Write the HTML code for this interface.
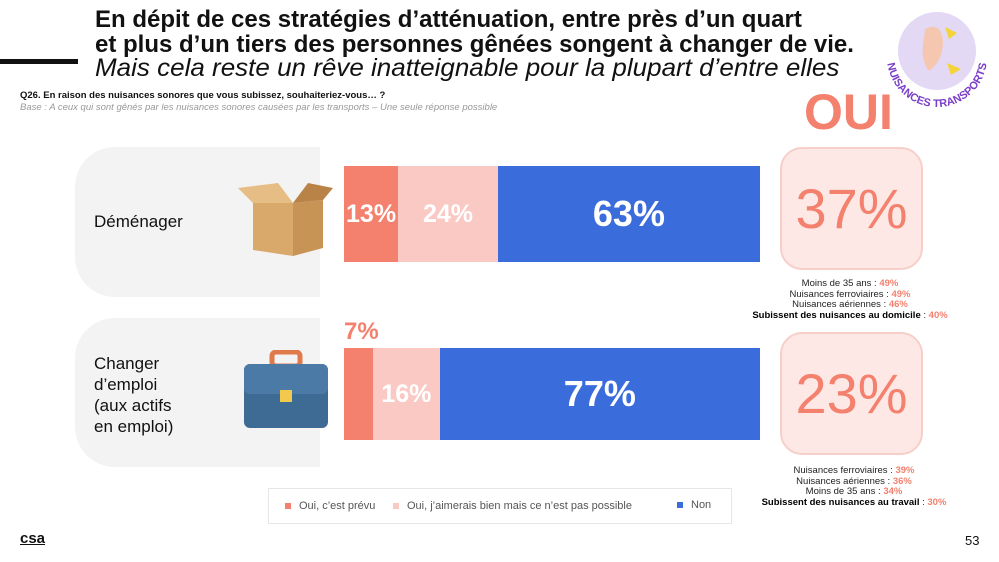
<!DOCTYPE html>
<html><head><meta charset="utf-8">
<style>
*{margin:0;padding:0;box-sizing:border-box}
body{width:999px;height:562px;background:#fff;font-family:"Liberation Sans",sans-serif;position:relative;overflow:hidden;color:#111}
.abs{position:absolute}
.title{left:95px;top:7px;font-size:24px;font-weight:bold;line-height:25px;white-space:nowrap}
.sub{left:95px;top:56px;font-size:25px;font-style:italic;line-height:25px;white-space:nowrap;transform:scaleX(1.04);transform-origin:left}
.card{background:#f3f3f3;border-radius:40px 0 0 40px}
.seg{position:absolute;display:flex;align-items:center;justify-content:center;color:#fff;font-weight:bold}
.oui{background:#fde8e6;border:2px solid #f7cfc9;border-radius:22px;color:#f4806e;font-size:56px;display:flex;align-items:center;justify-content:center}
.notes{font-size:9.5px;text-align:center;line-height:10.5px;color:#222}
.notes b{color:#000}
.notes span{color:#f4806e;font-weight:bold}
</style></head><body>
<div class="abs" style="left:0;top:59px;width:78px;height:5px;background:#111"></div>
<div class="abs title">En dépit de ces stratégies d’atténuation, entre près d’un quart<br>et plus d’un tiers des personnes gênées songent à changer de vie.</div>
<div class="abs sub">Mais cela reste un rêve inatteignable pour la plupart d’entre elles</div>
<div class="abs" style="left:20px;top:90px;font-size:9.5px;font-weight:bold">Q26. En raison des nuisances sonores que vous subissez, souhaiteriez-vous… ?</div>
<div class="abs" style="left:20px;top:102px;font-size:9.5px;font-style:italic;color:#999">Base : A ceux qui sont gênés par les nuisances sonores causées par les transports – Une seule réponse possible</div>

<svg class="abs" style="left:875px;top:5px" width="124" height="115" viewBox="0 0 124 115">
<defs><path id="arc" d="M12 52 A50 50 0 0 0 112 52"/></defs>
<circle cx="62" cy="46" r="39" fill="#e3d9f5"/>
<path d="M50 24 Q66 16 68 36 Q68 56 54 66 Q46 56 48 40Z" fill="#f6c7b0"/>
<path d="M70 22 L82 28 L74 34Z M72 58 L86 64 L76 70Z" fill="#f5d33b"/>
<text font-size="11" font-weight="bold" fill="#7a3ec9" font-family="Liberation Sans"><textPath href="#arc" startOffset="50%" text-anchor="middle">NUISANCES TRANSPORTS</textPath></text>
</svg>
<div class="abs" style="left:804px;top:86px;font-size:50px;font-weight:bold;color:#f4806e;line-height:52px">OUI</div>

<div class="abs card" style="left:75px;top:147px;width:245px;height:150px"></div>
<div class="abs" style="left:94px;top:212px;font-size:17px">Déménager</div>
<svg class="abs" style="left:238px;top:178px" width="96" height="80" viewBox="0 0 96 80">
<polygon points="15,25 55,25 55,78 15,72" fill="#d9a96b"/><polygon points="55,25 85,22 85,70 55,78" fill="#c89456"/>
<polygon points="15,25 0,10 40,5 55,25" fill="#e6bd84"/><polygon points="55,25 70,5 95,10 85,22" fill="#b98348"/>
</svg>
<div class="abs card" style="left:75px;top:318px;width:245px;height:149px"></div>
<div class="abs" style="left:94px;top:353px;font-size:17px;line-height:21px">Changer<br>d’emploi<br>(aux actifs<br>en emploi)</div>
<svg class="abs" style="left:242px;top:350px" width="88" height="80" viewBox="0 0 88 80">
<rect x="30" y="2" width="28" height="14" rx="4" fill="none" stroke="#e07a4a" stroke-width="5"/>
<rect x="2" y="14" width="84" height="64" rx="6" fill="#3d6b93"/><rect x="2" y="14" width="84" height="30" rx="6" fill="#4a7aa5"/>
<rect x="38" y="40" width="12" height="12" fill="#f2c94c"/>
</svg>

<div id="bars"></div>

<div class="abs oui" style="left:780px;top:147px;width:143px;height:123px">37%</div>
<div class="abs oui" style="left:780px;top:332px;width:143px;height:123px">23%</div>

<div class="abs notes" style="left:700px;top:279px;width:300px">Moins de 35 ans : <span>49%</span><br>Nuisances ferroviaires : <span>49%</span><br>Nuisances aériennes : <span>46%</span><br><b>Subissent des nuisances au domicile</b> : <span>40%</span></div>
<div class="abs notes" style="left:704px;top:466px;width:300px">Nuisances ferroviaires : <span>39%</span><br>Nuisances aériennes : <span>36%</span><br>Moins de 35 ans : <span>34%</span><br><b>Subissent des nuisances au travail</b> : <span>30%</span></div>

<div class="abs" style="left:268px;top:488px;width:464px;height:36px;border:1px solid #e6e6e6;font-size:11px;color:#555">
<div class="abs" style="left:16px;top:11px"><span style="display:inline-block;width:6px;height:6px;background:#f4806e;margin-right:8px"></span>Oui, c’est prévu</div>
<div class="abs" style="left:124px;top:11px"><span style="display:inline-block;width:6px;height:6px;background:#fbc9c4;margin-right:8px"></span>Oui, j’aimerais bien mais ce n’est pas possible</div>
<div class="abs" style="left:408px;top:10px"><span style="display:inline-block;width:6px;height:6px;background:#3a6cdc;margin-right:8px"></span>Non</div>
</div>

<div class="abs" style="left:20px;top:530px;font-size:15px;font-weight:bold;text-decoration:underline">csa</div>
<div class="abs" style="left:965px;top:533px;font-size:13px">53</div>

<script>
const categories=["Déménager","Changer d'emploi"];
const prevu=[13,7];
const pasPossible=[24,16];
const non=[63,77];
const colors=["#f4806e","#fbc9c4","#3a6cdc"];
const X0=344,W=416;
const rowTop=[166,348],rowH=[96,92];
function xScale(v){return v/100*W;}
const bars=document.getElementById('bars');
categories.forEach((c,i)=>{
  const vals=[prevu[i],pasPossible[i],non[i]];
  let acc=0;
  vals.forEach((v,j)=>{
    const d=document.createElement('div');
    
    
    d.className='seg';
    d.style.left=(X0+xScale(acc))+'px';
    d.style.top=rowTop[i]+'px';
    d.style.width=xScale(v)+'px';
    d.style.height=rowH[i]+'px';
    d.style.background=colors[j];
    d.style.fontSize=(j==2?36:(v<10?0:25))+'px';
    d.textContent=v<10?'':v+'%';
    bars.appendChild(d);
    if(v<10){
      const l=document.createElement('div');
      
      
      l.className='abs';
      l.style.left=(X0+xScale(acc))+'px';
      l.style.top=(rowTop[i]-30)+'px';
      l.style.fontSize='24px';l.style.fontWeight='bold';l.style.color=colors[j];
      l.textContent=v+'%';
      bars.appendChild(l);
    }
    acc+=v;
  });
});
</script>
</body></html>
